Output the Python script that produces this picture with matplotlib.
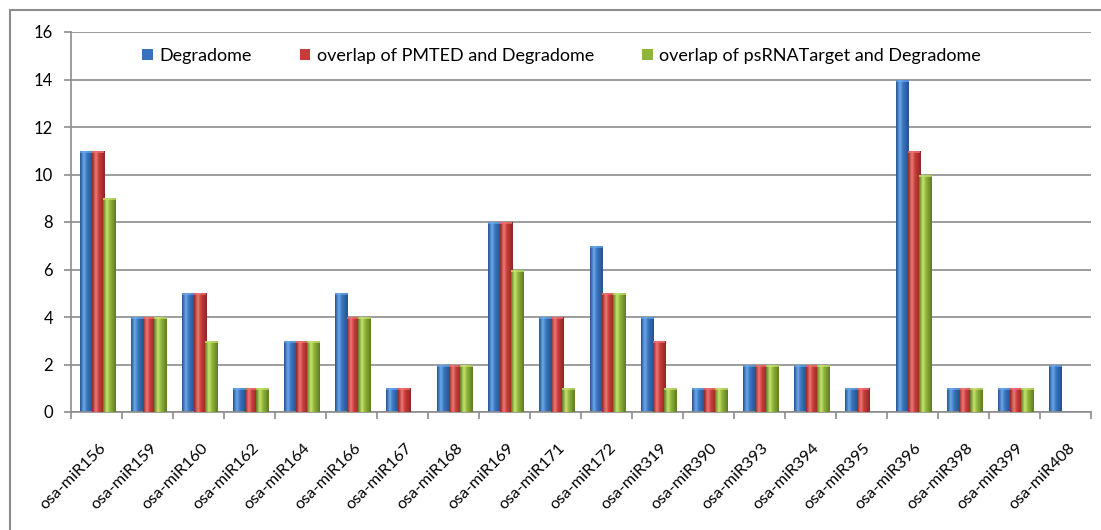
import numpy as np
import matplotlib
matplotlib.use("Agg")
import matplotlib.pyplot as plt
import matplotlib.colors as mcolors
import matplotlib.transforms as mtransforms
from matplotlib.patches import Rectangle

plt.rcParams["font.family"] = ["Lato", "DejaVu Sans"]

# ── Data ──────────────────────────────────────────────────────────────────────
mirnas = ["osa-miR156", "osa-miR159", "osa-miR160", "osa-miR162", "osa-miR164",
          "osa-miR166", "osa-miR167", "osa-miR168", "osa-miR169", "osa-miR171",
          "osa-miR172", "osa-miR319", "osa-miR390", "osa-miR393", "osa-miR394",
          "osa-miR395", "osa-miR396", "osa-miR398", "osa-miR399", "osa-miR408"]
degradome = [11, 4, 5, 1, 3, 5, 1, 2, 8, 4, 7, 4, 1, 2, 2, 1, 14, 1, 1, 2]
pmted     = [11, 4, 5, 1, 3, 4, 1, 2, 8, 4, 5, 3, 1, 2, 2, 1, 11, 1, 1, 0]
psrna     = [9, 4, 3, 1, 3, 4, 0, 2, 6, 1, 5, 1, 1, 2, 2, 0, 10, 1, 1, 0]
series_names = ["Degradome", "overlap of PMTED and Degradome",
                "overlap of psRNATarget and Degradome"]

# Excel 2007-ish cylinder colours: (dark edge, base, highlight)
palette = [("#24528c", "#3a73bd", "#6aa8ec"),
           ("#8e2624", "#c63c39", "#f07674"),
           ("#5f7a22", "#8fb53a", "#c6e46e")]

W, H = 1101, 530


def gradient_fill(ax, bar, shades):
    """Paint a bar with a horizontal cylinder-like gradient."""
    x, w, h = bar.get_x(), bar.get_width(), bar.get_height()
    if h <= 0:
        return
    dark, base, light = [np.array(mcolors.to_rgb(c)) for c in shades]
    cols = []
    for v in np.linspace(0, 1, 64):
        if v < 0.3:
            c = dark + (light - dark) * (v / 0.3)
        elif v < 0.55:
            c = light + (base - light) * ((v - 0.3) / 0.25)
        else:
            c = base + (dark - base) * ((v - 0.55) / 0.45)
        cols.append(c)
    img = np.array(cols)[np.newaxis, :, :]
    im = ax.imshow(img, extent=(x, x + w, 0, h), aspect="auto",
                   interpolation="bilinear", zorder=bar.get_zorder())
    im.set_clip_path(bar)
    # lighter cap at the top of the cylinder
    ax.add_patch(Rectangle((x, h - 0.09), w, 0.09, facecolor=light,
                           edgecolor="none", alpha=0.7,
                           zorder=bar.get_zorder() + 0.1))


fig = plt.figure(figsize=(W / 100, H / 100), dpi=100)
ax = fig.add_axes([71 / W, 1 - 412 / H, 1020 / W, 380 / H])

x = np.arange(len(mirnas))
width = 0.25
offsets = [-0.20, 0.03, 0.26]
for i, (vals, off, shades, name) in enumerate(zip([degradome, pmted, psrna],
                                                  offsets, palette, series_names)):
    bars = ax.bar(x + off, vals, width, color=shades[1], label=name,
                  zorder=2 + i, linewidth=0)
    for b in bars:
        gradient_fill(ax, b, shades)

ax.set_xlim(-0.5, len(mirnas) - 0.5)
ax.set_ylim(0, 16)
ax.set_yticks(range(0, 17, 2))
ax.set_xticks(np.arange(-0.5, len(mirnas), 1.0))
ax.set_xticklabels([])
ax.tick_params(axis="x", length=5, color="#8c8c8c", width=1.2)
ax.tick_params(axis="y", length=5, color="#8c8c8c", width=1.2, labelsize=12,
               pad=8)

# rotated category labels, top-right corner just under each group
trans = mtransforms.blended_transform_factory(ax.transData, ax.transAxes)
trans = trans + mtransforms.ScaledTranslation(2 / 100, -29 / 100, fig.dpi_scale_trans)
labels = [ax.text(xi, 0, lab, transform=trans, rotation=45, ha="right",
                  va="top", rotation_mode="anchor", fontsize=12, clip_on=False)
          for xi, lab in zip(x, mirnas)]

# fit label size so a rotated label spans ~72 px across, as in the original
renderer = fig.canvas.get_renderer()
span = labels[1].get_window_extent(renderer).width
size = 12 * 72 / span
for t in labels:
    t.set_fontsize(size)

ax.yaxis.grid(True, color="#8c8c8c", linewidth=1.2)
ax.set_axisbelow(True)
for side in ["top", "right"]:
    ax.spines[side].set_visible(False)
for side in ["left", "bottom"]:
    ax.spines[side].set_color("#8c8c8c")
    ax.spines[side].set_linewidth(1.2)

ax.legend(loc="center left", bbox_to_anchor=(135 / W, 1 - 56 / H),
          bbox_transform=fig.transFigure, ncol=3, frameon=False, fontsize=13,
          handlelength=0.6, handleheight=0.6, handletextpad=0.35,
          columnspacing=2.65, borderaxespad=0)

# outer chart border (only left/top visible in the crop)
fig.add_artist(plt.Line2D([10 / W, 10 / W], [0, 1 - 10 / H],
                          transform=fig.transFigure, color="#8c8c8c", lw=1.5))
fig.add_artist(plt.Line2D([10 / W, 1], [1 - 10 / H, 1 - 10 / H],
                          transform=fig.transFigure, color="#8c8c8c", lw=1.5))

fig.savefig("out.png", dpi=100)
